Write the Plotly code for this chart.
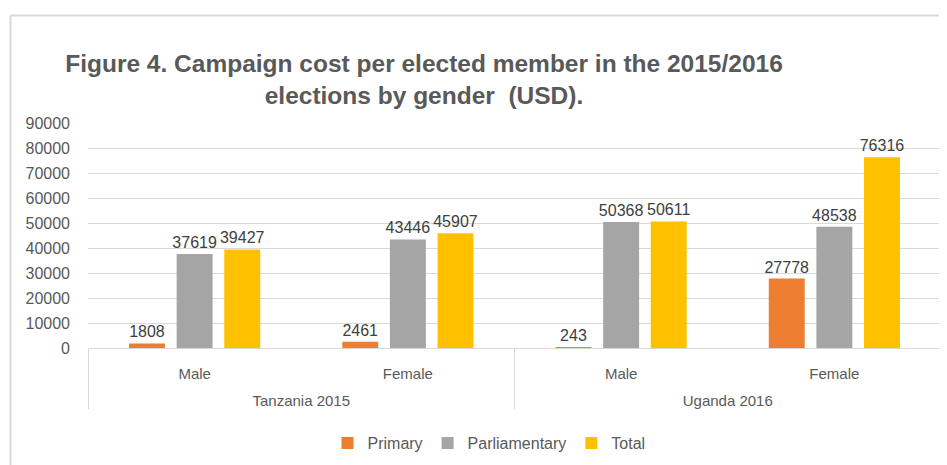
import plotly.graph_objects as go

# chart values
countries = ["Tanzania 2015", "Tanzania 2015", "Uganda 2016", "Uganda 2016"]
genders = ["Male", "Female", "Male", "Female"]
primary = [1808, 2461, 243, 27778]
parliamentary = [37619, 43446, 50368, 48538]
total = [39427, 45907, 50611, 76316]

series = [
    ("Primary", primary, "#ED7D31"),
    ("Parliamentary", parliamentary, "#A5A5A5"),
    ("Total", total, "#FFC000"),
]

# the page body adds an 8px margin, so work in page pixels and shift
OFF = 8
W, H = 947 - OFF, 465 - OFF
L, R, T, B = 88, 941, 123, 348  # plot area, page pixels
FONT = "Liberation Sans"
GRID = "#D9D9D9"
TEXT = "#595959"

# blank line under the gender labels pushes the country row down a bit
SPACER = "<br>\u00a0"


def px_x(px):
    return (px - L) / (R - L)


def px_y(py):
    return (B - py) / (B - T)


fig = go.Figure()
for name, values, color in series:
    fig.add_trace(
        go.Bar(
            name=name,
            x=[countries, [g + SPACER for g in genders]],
            y=values,
            marker=dict(color=color, line=dict(width=0)),
            text=[str(v) for v in values],
            textposition="outside",
            constraintext="none",
            cliponaxis=False,
            textfont=dict(family=FONT, size=16, color="#404040"),
        )
    )

# outer chart border (only left and top edges are visible)
fig.add_shape(
    type="line", xref="paper", yref="paper",
    x0=px_x(10.5), x1=px_x(10.5), y0=px_y(15.5), y1=px_y(470),
    line=dict(color=GRID, width=2),
)
fig.add_shape(
    type="line", xref="paper", yref="paper",
    x0=px_x(10.5), x1=px_x(950), y0=px_y(15.5), y1=px_y(15.5),
    line=dict(color=GRID, width=2),
)

fig.update_layout(
    width=W,
    height=H,
    margin=dict(l=L - OFF, r=W - (R - OFF), t=T - OFF, b=H - (B - OFF), autoexpand=False),
    paper_bgcolor="white",
    plot_bgcolor="white",
    barmode="group",
    bargap=0.33,
    bargroupgap=0.245,
    title=dict(
        text="Figure 4. Campaign cost per elected member in the 2015/2016<br>elections by gender  (USD).",
        x=(424 - OFF) / W,
        xanchor="center",
        xref="container",
        y=1 - (72 - OFF) / H,
        yanchor="top",
        yref="container",
        font=dict(family=FONT, size=24.5, color=TEXT, weight="bold"),
    ),
    font=dict(family=FONT, size=15, color=TEXT),
    yaxis=dict(
        range=[0, 90000],
        dtick=10000,
        tickformat="d",
        showgrid=True,
        gridcolor=GRID,
        zeroline=False,
        ticklabelstandoff=17,
        tickfont=dict(size=16, color=TEXT),
    ),
    xaxis=dict(
        type="multicategory",
        showline=True,
        linecolor=GRID,
        showdividers=True,
        dividercolor=GRID,
        dividerwidth=1,
        ticklabelstandoff=12,
        tickfont=dict(size=15, color=TEXT),
    ),
    legend=dict(
        orientation="h",
        x=px_x(489),
        xanchor="center",
        y=px_y(443),
        yanchor="middle",
        font=dict(size=16, color=TEXT),
        itemwidth=30,
    ),
)

fig.write_html("out.html")
